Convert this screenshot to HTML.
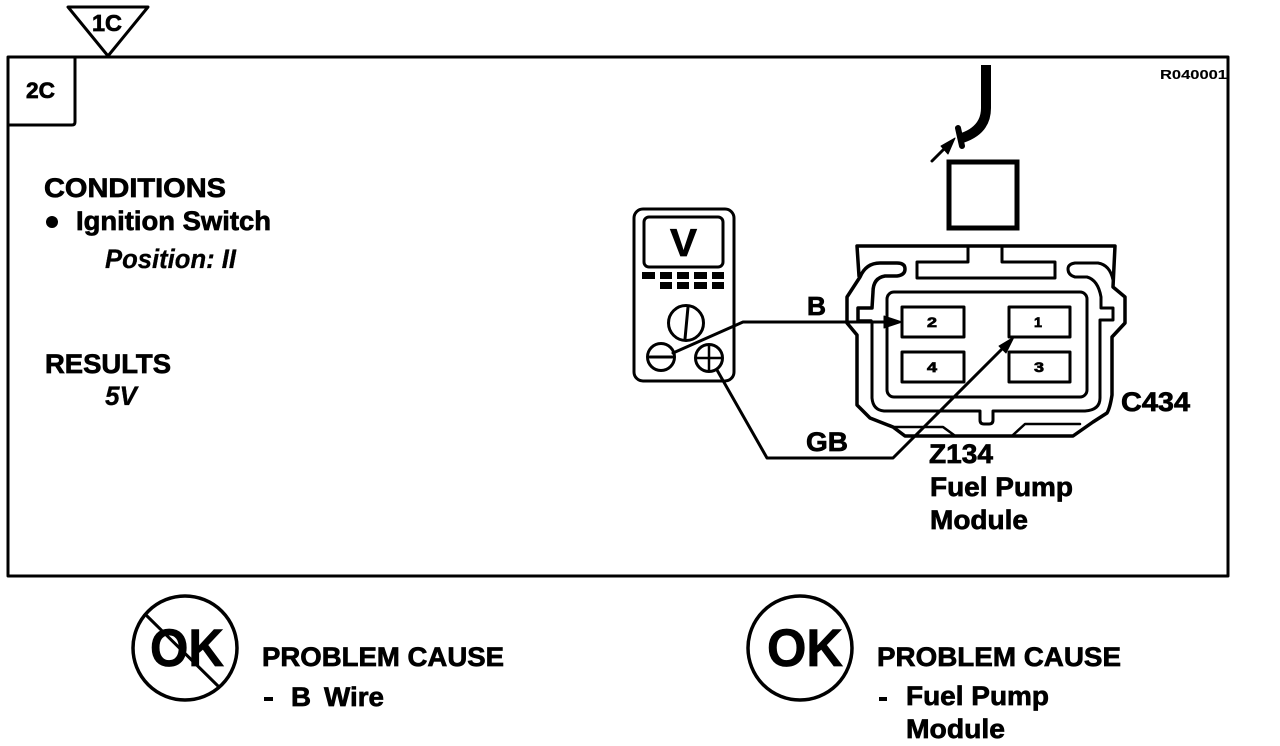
<!DOCTYPE html>
<html><head><meta charset="utf-8"><style>
html,body{margin:0;padding:0;background:#fff}
svg{display:block}
text{font-family:"Liberation Sans",sans-serif;font-weight:bold;fill:#000;stroke:#000;stroke-width:.7}
.i{font-style:italic;stroke-width:.3}
</style></head><body>
<svg width="1280" height="746" viewBox="0 0 1280 746" xmlns="http://www.w3.org/2000/svg">
<g fill="none" stroke="#000" stroke-linejoin="round" stroke-linecap="round">
<rect x="8" y="57" width="1220" height="519" stroke-width="3"/>
<path d="M8,125H72Q75,125 75,122V58" stroke-width="3"/>
<path d="M68,7H148L108,56Z" fill="#fff" stroke-width="3"/>

<!-- top wire and square -->
<path d="M986,65V108Q986,130 962,138" stroke-width="10" stroke-linecap="butt"/>
<path d="M958,128L962,146" stroke-width="6"/>
<path d="M932,161L950,143" stroke-width="3"/>
<path d="M955,138L941,146L948,154Z" fill="#000" stroke-width="1"/>
<rect x="949" y="162" width="68" height="66" stroke-width="5" stroke-linejoin="miter"/>

<!-- connector -->
<path d="M859,276L857,246H1115L1113,287L1125,297V323L1112,337V395Q1110,408 1107,413L1093,422L1073,436H905L893,427L870,418L857,405V335L847,323V297L860,277Q866,263 880,263H897Q905,263 905,269Q905,275 897,276H885Q873,278 873,292L872,308H858V321H871" stroke-width="3.5"/>
<path d="M872,322V398Q873,410 884,411H980V420Q980,424 984,424H989Q993,424 993,420V411H1085Q1100,410 1100,398V320H1113V308H1101V297Q1098,280 1087,277H1075Q1068,275 1068,269Q1068,264 1075,263H1098Q1110,265 1113,280" stroke-width="3"/>
<path d="M968,248V262H917V278H1055V262H1002V248" stroke-width="3"/>
<path d="M893,427H943L954,435M1013,435L1025,424H1080" stroke-width="2.5"/>
<rect x="887" y="292" width="200" height="105" rx="7" stroke-width="3"/>
<rect x="902" y="307" width="62" height="30" stroke-width="3"/>
<rect x="1009" y="307" width="61" height="30" stroke-width="3"/>
<rect x="902" y="352" width="62" height="30" stroke-width="3"/>
<rect x="1009" y="352" width="61" height="30" stroke-width="3"/>

<!-- meter -->
<rect x="634" y="209" width="100" height="172" rx="9" stroke-width="3"/>
<rect x="644" y="217" width="79" height="50" rx="5" stroke-width="3"/>
<circle cx="686" cy="323" r="17.5" stroke-width="3"/>
<path d="M688,307L685,339" stroke-width="3"/>
<circle cx="661" cy="357" r="13.5" stroke-width="3"/>
<path d="M650,357H672" stroke-width="3"/>
<circle cx="709" cy="358" r="13.5" stroke-width="3"/>
<path d="M709,345V371M696,358H722" stroke-width="2.5"/>

<!-- wires -->
<path d="M673,353L743,322H888" stroke-width="3"/>
<path d="M902,322L884,316V328Z" fill="#000" stroke-width="1"/>
<path d="M717,370L767,458H893L1006,345" stroke-width="3"/>
<path d="M1014,337L999,346L1006,353Z" fill="#000" stroke-width="1"/>

<!-- circles -->
<circle cx="185" cy="648" r="52" stroke-width="3.5"/>
<path d="M147,616L218,686" stroke-width="3"/>
<circle cx="800" cy="648" r="52" stroke-width="3.5"/>
</g>
<g fill="#000">
<rect x="642" y="272" width="13" height="7"/><rect x="660" y="272" width="12" height="7"/><rect x="677" y="272" width="12" height="7"/><rect x="694" y="272" width="13" height="7"/><rect x="712" y="272" width="12" height="7"/>
<rect x="660" y="282" width="12" height="7"/><rect x="677" y="282" width="12" height="7"/><rect x="694" y="282" width="13" height="7"/><rect x="712" y="282" width="12" height="7"/>
<circle cx="52" cy="222" r="6"/>
<rect x="264" y="697" width="9" height="4"/>
<rect x="879" y="697" width="8" height="4"/>
</g>

<text x="92" y="31" font-size="23" textLength="30" lengthAdjust="spacingAndGlyphs">1C</text>
<text x="26" y="98" font-size="22" textLength="29" lengthAdjust="spacingAndGlyphs">2C</text>
<text x="1160" y="79" font-size="13" textLength="67" lengthAdjust="spacingAndGlyphs" style="stroke-width:.1">R040001</text>

<text x="44" y="197" font-size="27" textLength="182" lengthAdjust="spacingAndGlyphs">CONDITIONS</text>
<text x="76" y="230" font-size="27" textLength="195" lengthAdjust="spacingAndGlyphs">Ignition Switch</text>
<text class="i" x="105" y="268" font-size="27" textLength="131" lengthAdjust="spacingAndGlyphs">Position: II</text>
<text x="45" y="373" font-size="27" textLength="126" lengthAdjust="spacingAndGlyphs">RESULTS</text>
<text class="i" x="105" y="405" font-size="27" textLength="32" lengthAdjust="spacingAndGlyphs">5V</text>

<text x="670" y="256" font-size="39" textLength="27" lengthAdjust="spacingAndGlyphs">V</text>
<text x="807" y="315" font-size="26" textLength="19" lengthAdjust="spacingAndGlyphs">B</text>
<text x="806" y="451" font-size="27" textLength="42" lengthAdjust="spacingAndGlyphs">GB</text>

<text x="927" y="327" font-size="14" textLength="10" lengthAdjust="spacingAndGlyphs">2</text>
<text x="1034" y="327" font-size="14" textLength="8" lengthAdjust="spacingAndGlyphs">1</text>
<text x="927" y="372" font-size="14" textLength="10" lengthAdjust="spacingAndGlyphs">4</text>
<text x="1034" y="372" font-size="14" textLength="10" lengthAdjust="spacingAndGlyphs">3</text>

<text x="1121" y="411" font-size="27" textLength="69" lengthAdjust="spacingAndGlyphs">C434</text>
<text x="929" y="463" font-size="27" textLength="64" lengthAdjust="spacingAndGlyphs">Z134</text>
<text x="930" y="496" font-size="27" textLength="143" lengthAdjust="spacingAndGlyphs">Fuel Pump</text>
<text x="930" y="529" font-size="27" textLength="98" lengthAdjust="spacingAndGlyphs">Module</text>

<text x="150" y="666" font-size="53" textLength="74" lengthAdjust="spacingAndGlyphs">OK</text>
<text x="767" y="666" font-size="53" textLength="76" lengthAdjust="spacingAndGlyphs">OK</text>

<text x="262" y="666" font-size="27" textLength="242" lengthAdjust="spacingAndGlyphs">PROBLEM CAUSE</text>
<text x="291" y="706" font-size="27" textLength="20" lengthAdjust="spacingAndGlyphs">B</text>
<text x="324" y="706" font-size="27" textLength="60" lengthAdjust="spacingAndGlyphs">Wire</text>
<text x="877" y="666" font-size="27" textLength="244" lengthAdjust="spacingAndGlyphs">PROBLEM CAUSE</text>
<text x="906" y="705" font-size="27" textLength="143" lengthAdjust="spacingAndGlyphs">Fuel Pump</text>
<text x="906" y="738" font-size="27" textLength="99" lengthAdjust="spacingAndGlyphs">Module</text>
</svg>
</body></html>
